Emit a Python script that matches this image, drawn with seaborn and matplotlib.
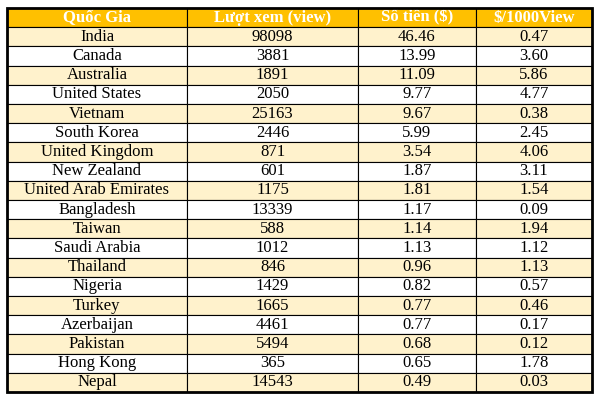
import matplotlib
matplotlib.use("Agg")
import matplotlib.pyplot as plt
import seaborn as sns
import pandas as pd

countries = ["India", "Canada", "Australia", "United States", "Vietnam", "South Korea",
             "United Kingdom", "New Zealand", "United Arab Emirates", "Bangladesh", "Taiwan",
             "Saudi Arabia", "Thailand", "Nigeria", "Turkey", "Azerbaijan", "Pakistan",
             "Hong Kong", "Nepal"]
views = [98098, 3881, 1891, 2050, 25163, 2446, 871, 601, 1175, 13339, 588,
         1012, 846, 1429, 1665, 4461, 5494, 365, 14543]
money = ["46.46", "13.99", "11.09", "9.77", "9.67", "5.99", "3.54", "1.87", "1.81", "1.17",
         "1.14", "1.13", "0.96", "0.82", "0.77", "0.77", "0.68", "0.65", "0.49"]
per_1000 = ["0.47", "3.60", "5.86", "4.77", "0.38", "2.45", "4.06", "3.11", "1.54", "0.09",
            "1.94", "1.12", "1.13", "0.57", "0.46", "0.17", "0.12", "1.78", "0.03"]
headers = ["Quốc Gia", "Lượt xem (view)", "Số tiền ($)", "$/1000View"]

sns.set_theme(style="white")
plt.rcParams['font.family'] = ['Liberation Serif', 'DejaVu Serif']

df = pd.DataFrame({headers[0]: countries, headers[1]: views,
                   headers[2]: money, headers[3]: per_1000})

fig = plt.figure(figsize=(6, 4), dpi=100)
ax = fig.add_axes([0, 0, 1, 1])
ax.axis("off")

colors = [["#FFF2CC" if i % 2 == 0 else "white"] * 4 for i in range(len(df))]
tbl = ax.table(cellText=df.astype(str).values, colLabels=headers, cellColours=colors,
               colColours=["#FFC000"] * 4, cellLoc="center",
               bbox=[7 / 600, 8 / 400, 585 / 600, 384 / 400])
tbl.auto_set_font_size(False)
widths = [180, 171, 118, 116]
for (r, c), cell in tbl.get_celld().items():
    cell.set_width(widths[c] / 600)
    cell.set_edgecolor("black")
    cell.set_linewidth(0.8)
    cell.get_text().set_fontsize(12)
    cell.get_text().set_color("black")
    if r == 0:
        cell.get_text().set_color("white")
        cell.get_text().set_fontweight("bold")

# thicker outer frame
ax.add_patch(plt.Rectangle((7 / 600, 8 / 400), 585 / 600, 384 / 400, fill=False,
                           edgecolor="black", linewidth=2, transform=ax.transAxes, zorder=5))

fig.savefig("out.png", dpi=100)
